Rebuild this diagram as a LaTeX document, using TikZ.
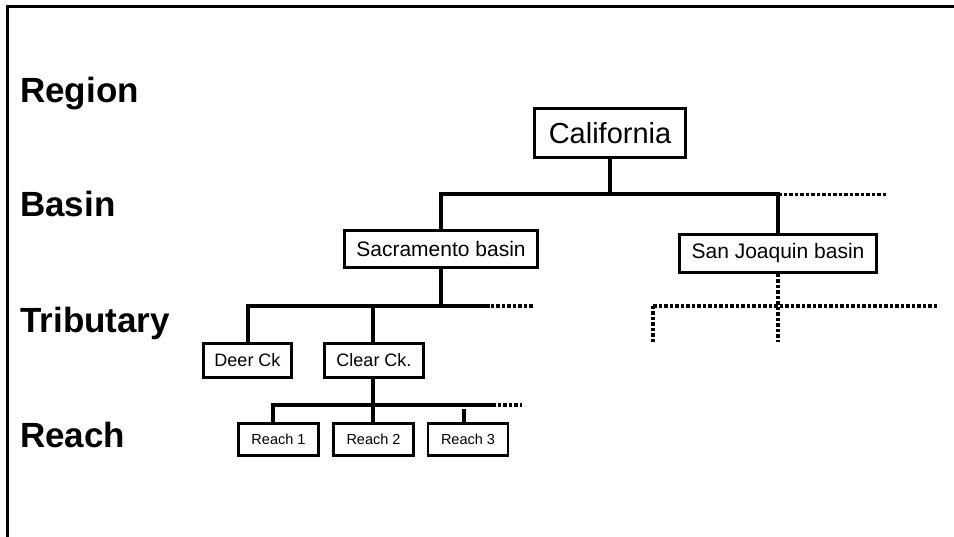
\documentclass[tikz,border=0pt]{standalone}
\usepackage{fontspec}
\setmainfont{Liberation Sans}
\begin{document}
\begin{tikzpicture}[x=1pt,y=-1pt,
  levellabel/.style={anchor=base west,inner sep=0pt,font=\fontsize{35}{42}\selectfont\bfseries},
  unit/.style={draw,line width=2.8pt,fill=white,inner sep=0pt,align=center},
  conn/.style={line width=4pt},
  open/.style={line width=3.6pt,dash pattern=on 3.5pt off 2pt}]
\useasboundingbox (0,0) rectangle (954,537);
% open frame: top and left edges only
\draw[line width=3pt] (7,537) -- (7,7) -- (954,7);

% level names
\node[levellabel] (lRegion) at (20,103) {Region};
\node[levellabel] (lBasin) at (20,217) {Basin};
\node[levellabel] (lTrib) at (20,333) {Tributary};
\node[levellabel] (lReach) at (20,447) {Reach};

% hierarchy units
\node[unit,minimum width=151,minimum height=49,font=\fontsize{29}{34}\selectfont] (cal) at (610,133) {California};
\node[unit,minimum width=193,minimum height=37,font=\fontsize{21}{25}\selectfont] (sac) at (441,249) {Sacramento basin};
\node[unit,minimum width=197,minimum height=38,font=\fontsize{21}{25}\selectfont] (sj) at (778,253.5) {San Joaquin basin};
\node[unit,minimum width=88,minimum height=34,font=\fontsize{18}{22}\selectfont] (deer) at (247.5,360.5) {Deer Ck};
\node[unit,minimum width=99,minimum height=34,font=\fontsize{18}{22}\selectfont] (clear) at (374,360.5) {Clear Ck.};
\node[unit,minimum width=80,minimum height=32,font=\fontsize{14.5}{17}\selectfont] (r1) at (278.5,439.5) {Reach 1};
\node[unit,minimum width=80,minimum height=32,font=\fontsize{14.5}{17}\selectfont] (r2) at (373.5,439.5) {Reach 2};
\node[unit,minimum width=80,minimum height=32,font=\fontsize{14.5}{17}\selectfont] (r3) at (468,439.5) {Reach 3};

% junction points
\coordinate (jBasin) at (610,194.5);
\coordinate (jTrib) at (441,306);
\coordinate (jReach) at (373,405);
\coordinate (moreBasin) at (887,194.5);
\coordinate (moreTrib) at (533,306);
\coordinate (moreReach) at (522,405);
\coordinate (sjTribL) at (653,306);
\coordinate (sjTribR) at (938,306);
\coordinate (sjEndL) at (653,342);
\coordinate (sjEndM) at (778,342);

% region -> basins
\draw[conn] (cal.south) -- (jBasin);
\draw[conn] (sac.north) -- (sac.north |- jBasin) -- (sj.north |- jBasin) -- (sj.north);
\draw[open] (sj.north |- jBasin) -- (moreBasin);

% Sacramento basin -> tributaries
\draw[conn] (sac.south) -- (jTrib);
\draw[conn] (deer.north) -- (deer.north |- jTrib) -- (490,306);
\draw[conn] (clear.north -| 373,0) -- (373,306);
\draw[open] (485,306) -- (moreTrib);

% Clear Ck. -> reaches
\draw[conn] (clear.south -| jReach) -- (jReach);
\draw[conn] (r1.north -| 273,0) -- (273,405) -- (492,405);
\draw[conn] (r2.north -| jReach) -- (jReach);
\draw[conn] (r3.north -| 464,0) -- (464,409);
\draw[open] (492,405) -- (moreReach);

% San Joaquin basin: tributaries not drawn in full
\draw[open] (sj.south) -- (sjEndM);
\draw[open] (sjTribL) -- (sjTribR);
\draw[open] (sjTribL) -- (sjEndL);
\end{tikzpicture}
\end{document}
